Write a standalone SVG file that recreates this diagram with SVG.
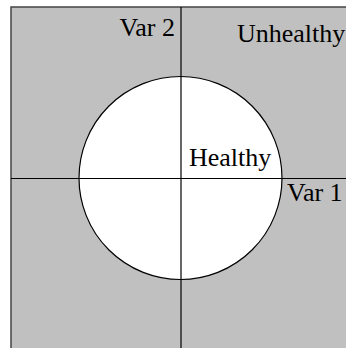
<svg xmlns="http://www.w3.org/2000/svg" width="346" height="348" viewBox="0 0 346 348">
<style>
.t{font-family:"Liberation Serif","Times New Roman",serif;font-size:26px;fill:#000}
.ax{stroke:#000;stroke-width:1.2;fill:none}
</style>
<rect x="0" y="0" width="346" height="348" fill="#fff"/>
<g id="region">
<rect x="11" y="7" width="340" height="345" fill="#c0c0c0" stroke="#444" stroke-width="1.5"/>
</g>
<g id="healthy-zone">
<circle cx="180.5" cy="178" r="101.5" fill="#fff" stroke="#000" stroke-width="1.2"/>
</g>
<g id="connectors">
<line class="ax" x1="11" y1="178.5" x2="346" y2="178.5"/>
<line class="ax" x1="181" y1="7" x2="181" y2="348"/>
</g>
<g id="labels">
<text class="t" x="175" y="36" text-anchor="end">Var 2</text>
<text class="t" x="237" y="42">Unhealthy</text>
<text class="t" x="189" y="166">Healthy</text>
<text class="t" x="287" y="201">Var 1</text>
</g>
</svg>
